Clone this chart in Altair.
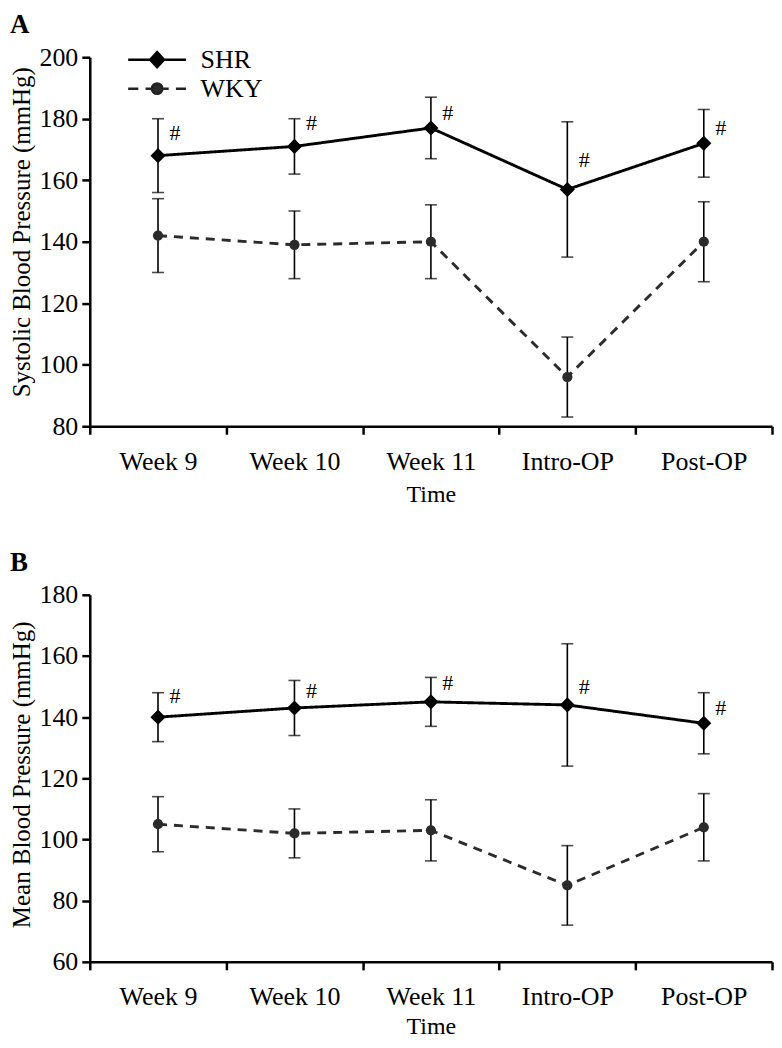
import altair as alt
import pandas as pd

categories = ["Week 9", "Week 10", "Week 11", "Intro-OP", "Post-OP"]
series_names = ["SHR", "WKY"]

# Panel A: systolic blood pressure
a_shr_mean = [168, 171, 177, 157, 172]
a_shr_lo = [156, 162, 167, 135, 161]
a_shr_hi = [180, 180, 187, 179, 183]
a_wky_mean = [142, 139, 140, 96, 140]
a_wky_lo = [130, 128, 128, 83, 127]
a_wky_hi = [154, 150, 152, 109, 153]
a_hash_y = [175.5, 178.5, 182, 166.5, 177]

# Panel B: mean blood pressure
b_shr_mean = [140, 143, 145, 144, 138]
b_shr_lo = [132, 134, 137, 124, 128]
b_shr_hi = [148, 152, 153, 164, 148]
b_wky_mean = [105, 102, 103, 85, 104]
b_wky_lo = [96, 94, 93, 72, 93]
b_wky_hi = [114, 110, 113, 98, 115]
b_hash_y = [147, 148.5, 151, 150, 143]

FONT = "Liberation Serif"
SHR_PATH = "M-2,0H2M0,-0.52L0.48,0L0,0.52L-0.48,0Z"
WKY_PATH = ("M-2,0H-1.3M-0.8,0H-0.25M0.25,0H0.8M1.3,0H2"
            "M-0.36,0A0.36,0.36,0,1,1,0.36,0A0.36,0.36,0,1,1,-0.36,0Z")


def build_df(shr_m, shr_l, shr_h, wky_m, wky_l, wky_h):
    rows = []
    for name, m, l, h in (("SHR", shr_m, shr_l, shr_h), ("WKY", wky_m, wky_l, wky_h)):
        for t, mv, lv, hv in zip(categories, m, l, h):
            rows.append({"time": t, "series": name, "mean": mv, "lo": lv, "hi": hv})
    return pd.DataFrame(rows)


def panel(letter, ytitle, ymin, ymax, df, hash_y, width, height, lx, ly, rowpad,
          xtitle_pad, ytitle_y):
    def xe():
        return alt.X(
            "time:N",
            sort=categories,
            scale=alt.Scale(type="band", domain=categories, paddingInner=0, paddingOuter=0),
            axis=alt.Axis(
                tickBand="extent", labelAngle=0, labelFontSize=26, labelPadding=14,
                tickSize=8, tickWidth=2.5, domainWidth=2.5, titleFontSize=24,
                titlePadding=xtitle_pad,
            ),
            title="Time",
        )

    def ye(field):
        return alt.Y(
            field,
            scale=alt.Scale(domain=[ymin, ymax], nice=False, zero=False),
            axis=alt.Axis(
                values=list(range(ymin, ymax + 1, 20)), labelFontSize=26, labelPadding=4,
                tickSize=8, tickWidth=2.5, domainWidth=2.5, titleFontSize=25,
                titlePadding=4, titleY=ytitle_y,
            ),
            title=ytitle,
        )

    base = alt.Chart(df)
    layers = []
    styles = {
        "SHR": dict(color="#000000", dash=[1, 0], shape="diamond", size=230),
        "WKY": dict(color="#2b2b2b", dash=[9, 7], shape="circle", size=105),
    }
    for s in series_names:
        st = styles[s]
        f = base.transform_filter(alt.datum.series == s)
        layers.append(
            f.mark_line(color=st["color"], strokeWidth=2.9, strokeDash=st["dash"]).encode(
                x=xe(), y=ye("mean:Q")
            )
        )
        layers.append(
            f.mark_rule(color="#000000", strokeWidth=1.6).encode(
                x=xe(), y=ye("lo:Q"), y2="hi:Q"
            )
        )
        for fld in ("lo:Q", "hi:Q"):
            layers.append(
                f.mark_tick(color="#000000", size=12, thickness=1.6).encode(
                    x=xe(), y=ye(fld)
                )
            )
        layers.append(
            f.mark_point(
                shape=st["shape"], filled=True, size=st["size"], color=st["color"], opacity=1
            ).encode(x=xe(), y=ye("mean:Q"))
        )

    hash_df = pd.DataFrame({"time": categories, "hy": hash_y})
    layers.append(
        alt.Chart(hash_df)
        .mark_text(text="#", dx=17, font=FONT, fontSize=22, baseline="middle", color="#000")
        .encode(x=xe(), y=ye("hy:Q"))
    )

    leg = alt.Legend(
        orient="none", legendX=lx, legendY=ly, direction="vertical", title=None,
        symbolSize=841, symbolStrokeWidth=2.5,
        symbolOpacity=1, labelFont=FONT, labelFontSize=26, labelColor="#000",
        labelOffset=27.5, rowPadding=rowpad, padding=0,
    )
    layers.append(
        base.transform_filter("false")
        .mark_point(filled=True, strokeWidth=2.5, opacity=1)
        .encode(
            x=xe(),
            y=ye("mean:Q"),
            shape=alt.Shape("series:N", scale=alt.Scale(domain=series_names, range=[SHR_PATH, WKY_PATH]), legend=leg),
            fill=alt.Fill("series:N", scale=alt.Scale(domain=series_names, range=["#000000", "#2b2b2b"]), legend=leg),
            stroke=alt.Stroke("series:N", scale=alt.Scale(domain=series_names, range=["#000000", "#222222"]), legend=leg),
        )
    )

    return alt.layer(*layers).properties(
        width=width,
        height=height,
        title=alt.TitleParams(
            letter, anchor="start", frame="bounds", font=FONT, fontSize=27,
            fontWeight="bold", color="#000", offset=5,
        ),
    )


df_a = build_df(a_shr_mean, a_shr_lo, a_shr_hi, a_wky_mean, a_wky_lo, a_wky_hi)
df_b = build_df(b_shr_mean, b_shr_lo, b_shr_hi, b_wky_mean, b_wky_lo, b_wky_hi)

pa = panel("A", "Systolic Blood Pressure (mmHg)", 80, 200, df_a, a_hash_y, 684, 370,
           51.5, -13.5, 0, 8, 175)
pb = panel("B", "Mean Blood Pressure (mmHg)", 60, 180, df_b, b_hash_y, 684, 368,
           55.5, -13.5, 2, 5, 180)

chart = (
    alt.vconcat(pa, pb, spacing=43)
    .properties(padding={"left": 2, "top": 2, "right": 0, "bottom": 0})
    .configure_view(stroke=None)
    .configure_axis(
        labelFont=FONT, titleFont=FONT, labelColor="#000", titleColor="#000",
        domainColor="#000", tickColor="#000", titleFontWeight="normal", grid=False,
    )
)

chart.save("out.html", embed_options={"renderer": "svg", "actions": False})
